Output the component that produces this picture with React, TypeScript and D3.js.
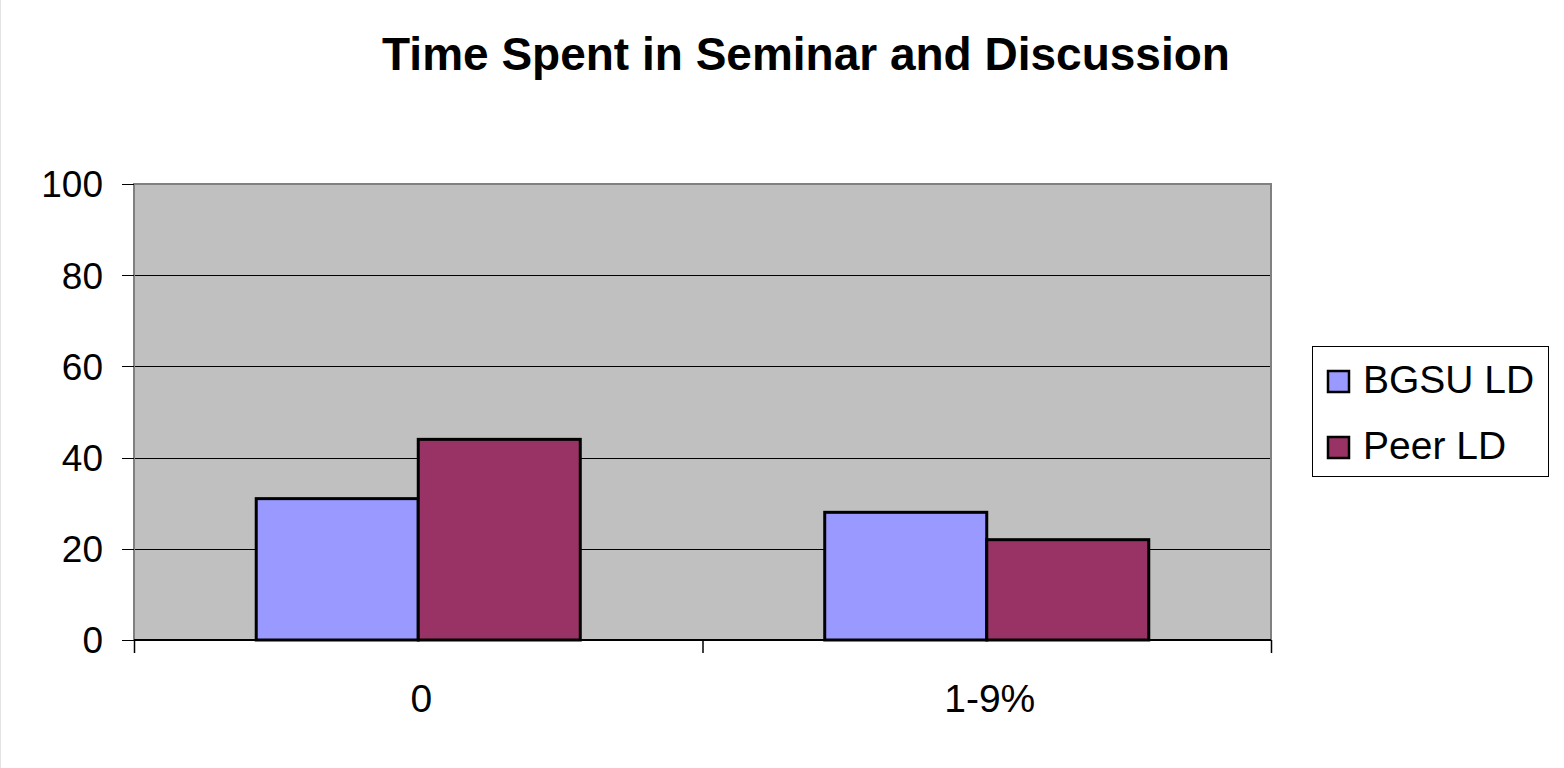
import React from "react";
import * as d3 from "d3";

const categories = ["0", "1-9%"];
const seriesNames = ["BGSU LD", "Peer LD"];
const bgsuValues = [31, 28];
const peerValues = [44, 22];
const yTicks = [0, 20, 40, 60, 80, 100];
const colors = ["#9999FF", "#993366"];
const title = "Time Spent in Seminar and Discussion";

export default function App() {
  const W = 1564, H = 768;
  const left = 134, right = 1271, top = 184, bottom = 640;
  const font = "Arial, 'Liberation Sans', Helvetica, sans-serif";
  const x0 = d3.scaleBand<string>().domain(categories).range([left, right]).padding(0);
  const groupW = x0.bandwidth() * 0.57;
  const x1 = d3.scaleBand<string>().domain(seriesNames).range([0, groupW]).padding(0);
  const y = d3.scaleLinear().domain([0, 100]).range([bottom, top]);
  const seriesValues = [bgsuValues, peerValues];

  return (
    <svg width={W} height={H} style={{ position: "absolute", left: 0, top: 0, background: "#fff" }}>
      <line x1={0.5} y1={0} x2={0.5} y2={H} stroke="#e4e4e4" strokeWidth={1} />
      <text x={806} y={70} textAnchor="middle" fontFamily={font} fontWeight="bold" fontSize={46}>
        {title}
      </text>
      <rect x={left} y={top} width={right - left} height={bottom - top} fill="#C0C0C0" />
      {yTicks.filter(t => t > 0 && t < 100).map(t => (
        <line key={"g" + t} x1={left} x2={right} y1={Math.round(y(t)) + 0.5} y2={Math.round(y(t)) + 0.5} stroke="#000" strokeWidth={1} />
      ))}
      <path d={`M${left},${bottom} V${top} H${right} V${bottom}`} fill="none" stroke="#808080" strokeWidth={2} />
      {categories.map((c, i) => (
        <g key={c}>
          {seriesNames.map((s, j) => {
            const bx = (x0(c) as number) + (x0.bandwidth() - groupW) / 2 + (x1(s) as number);
            const v = seriesValues[j][i];
            return (
              <rect key={s} x={bx} y={y(v)} width={x1.bandwidth()} height={bottom - y(v)}
                fill={colors[j]} stroke="#000" strokeWidth={3} />
            );
          })}
        </g>
      ))}
      {yTicks.map(t => (
        <g key={"t" + t}>
          <line x1={122} x2={left} y1={Math.round(y(t)) + 0.5} y2={Math.round(y(t)) + 0.5} stroke="#000" strokeWidth={1} />
          <text x={103} y={y(t)} dy="0.36em" textAnchor="end" fontFamily={font} fontSize={37}>{t}</text>
        </g>
      ))}
      <line x1={left} x2={right} y1={bottom} y2={bottom} stroke="#000" strokeWidth={2} />
      {[...categories.map(c => x0(c) as number), right].map((xv, i) => (
        <line key={"xt" + i} x1={xv + 0.5} x2={xv + 0.5} y1={bottom} y2={653} stroke="#000" strokeWidth={1.5} />
      ))}
      {categories.map(c => (
        <text key={"xl" + c} x={(x0(c) as number) + x0.bandwidth() / 2 + 3} y={712} textAnchor="middle" fontFamily={font} fontSize={39}>{c}</text>
      ))}
      <rect x={1312.5} y={346.5} width={236} height={130} fill="#fff" stroke="#000" strokeWidth={1} />
      {seriesNames.map((s, j) => (
        <g key={"lg" + s}>
          <rect x={1328} y={371 + j * 66} width={21} height={21} fill={colors[j]} stroke="#000" strokeWidth={2.5} />
          <text x={1363} y={393 + j * 66} fontFamily={font} fontSize={39}>{s}</text>
        </g>
      ))}
    </svg>
  );
}
